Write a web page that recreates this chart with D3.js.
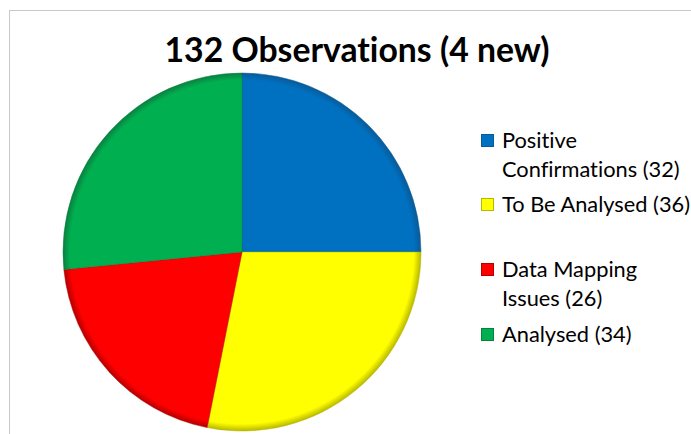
<!DOCTYPE html>
<html>
<head>
<meta charset="utf-8">
<script src="https://cdn.jsdelivr.net/npm/d3@7"></script>
<style>
  html, body { margin: 0; padding: 0; background: #fff; }
  svg { display: block; }
  text { font-variant-ligatures: none; font-feature-settings: "liga" 0; }
</style>
</head>
<body>
<svg id="chart" width="691" height="434"></svg>
<script>
// Observation counts by status
const categories = ["Positive Confirmations", "To Be Analysed", "Data Mapping Issues", "Analysed"];
const values = [32, 36, 26, 34];
const colors = ["#0070C0", "#FFFF00", "#FF0000", "#00B050"];
const edgeColors = ["#0a5a96", "#b8b800", "#b30000", "#0a8040"];
// Legend lines (wrapped as in the legend box)
const legendLines = [
  ["Positive", "Confirmations (32)"],
  ["To Be Analysed (36)"],
  ["Data Mapping", "Issues (26)"],
  ["Analysed (34)"]
];
const titleText = "132 Observations (4 new)";

const svg = d3.select("#chart");
const W = 691, H = 434;

// chart frame
svg.append("rect")
  .attr("x", 9.5).attr("y", 10.5)
  .attr("width", W + 20).attr("height", H + 20)
  .attr("fill", "#fff").attr("stroke", "#c8c8c8").attr("stroke-width", 1);

// title
const title = svg.append("text")
  .attr("x", 357).attr("y", 62)
  .attr("text-anchor", "middle")
  .style("font-family", "Lato, 'Open Sans', sans-serif")
  .style("font-weight", "bold")
  .style("font-size", "30px")
  .attr("fill", "#000")
  .text(titleText);
// fit the title to its box width
{
  const target = 385;
  const w = title.node().getComputedTextLength();
  title.style("font-size", (30 * target / w).toFixed(2) + "px");
}

// pie
const cx = 242, cy = 252, R = 179;
const defs = svg.append("defs");
colors.forEach((c, i) => {
  const g = defs.append("radialGradient")
    .attr("id", "rim" + i)
    .attr("gradientUnits", "userSpaceOnUse")
    .attr("cx", 0).attr("cy", 0).attr("r", R);
  g.append("stop").attr("offset", "0%").attr("stop-color", c);
  g.append("stop").attr("offset", "96%").attr("stop-color", c);
  g.append("stop").attr("offset", "100%").attr("stop-color", edgeColors[i]);
});

const pie = d3.pie().sort(null).value(d => d);
const arc = d3.arc().innerRadius(0).outerRadius(R);

const pg = svg.append("g").attr("transform", `translate(${cx},${cy})`);
pg.selectAll("path")
  .data(pie(values))
  .join("path")
  .attr("d", arc)
  .attr("fill", (d, i) => `url(#rim${i})`)
  .attr("stroke", (d, i) => edgeColors[i])
  .attr("stroke-opacity", 0.5)
  .attr("stroke-width", 1);

// legend
const lg = svg.append("g");
const sqX = 481, sq = 13;
const itemTops = [134, 198, 263, 328];
const lineGap = 29;
legendLines.forEach((lines, i) => {
  const top = itemTops[i];
  lg.append("rect")
    .attr("x", sqX + 0.5).attr("y", top + 0.5)
    .attr("width", sq - 1).attr("height", sq - 1)
    .attr("fill", colors[i])
    .attr("stroke", edgeColors[i]).attr("stroke-width", 1);
  lines.forEach((t, j) => {
    lg.append("text")
      .attr("class", "leg")
      .attr("x", 502).attr("y", top + 14 + j * lineGap)
      .style("font-family", "Lato, 'Open Sans', sans-serif")
      .style("font-size", "20px")
      .attr("fill", "#000")
      .text(t);
  });
});
// fit legend text size to the widest line width
{
  const probe = lg.selectAll("text.leg").filter(function () { return d3.select(this).text() === "To Be Analysed (36)"; });
  const w = probe.node().getComputedTextLength();
  const fs = 20 * 188 / w;
  lg.selectAll("text.leg").style("font-size", fs.toFixed(2) + "px");
}
</script>
</body>
</html>
